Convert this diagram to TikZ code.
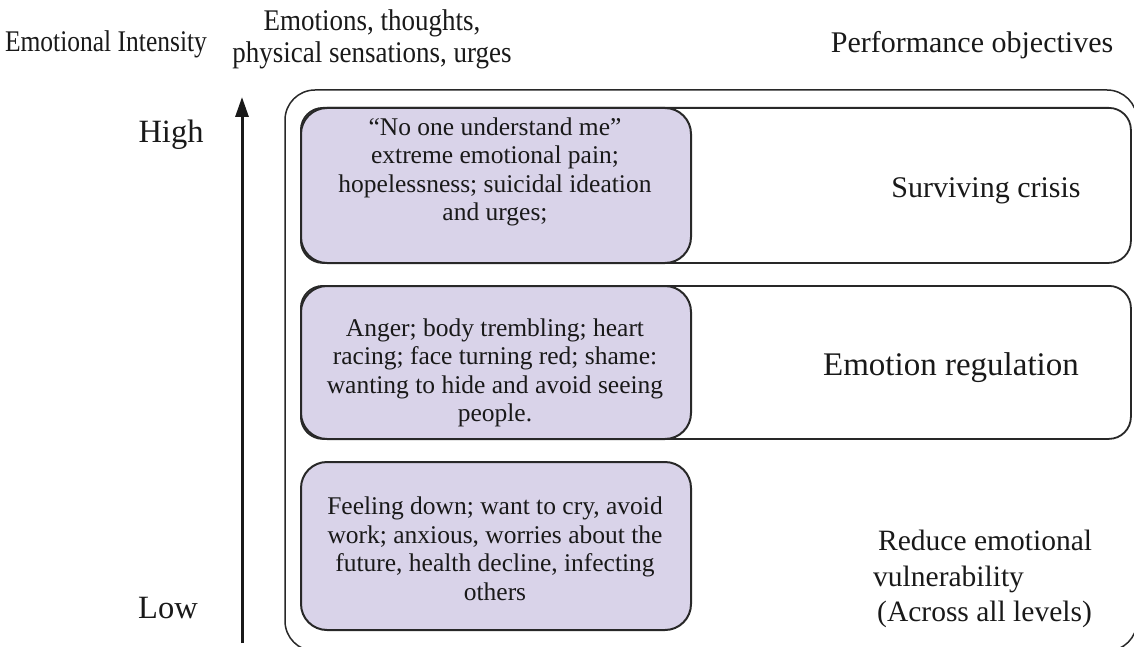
\documentclass[tikz,border=0pt]{standalone}
\usepackage{fontspec}
\setmainfont{Liberation Serif}
\newfontfamily\narrowhead{Liberation Serif}[FakeStretch=0.85]
\newfontfamily\midhead{Liberation Serif}[FakeStretch=0.9]
\usetikzlibrary{arrows.meta}
\definecolor{lav}{RGB}{217,211,233}
\definecolor{edge}{RGB}{40,40,40}
\definecolor{ink}{RGB}{25,25,25}
\begin{document}
\begin{tikzpicture}[x=1pt,y=-1pt,
  frame/.style={draw=edge, line width=1.5pt, rounded corners=30pt},
  rowbox/.style={draw=edge, line width=1.8pt, fill=white, rounded corners=22pt, anchor=north west, inner sep=0pt},
  feelbox/.style={draw=edge, line width=2pt, fill=lav, rounded corners=26pt, anchor=north west, inner sep=0pt},
  body/.style={font=\fontsize{25.5}{28.5}\selectfont, align=center, inner sep=0pt, text=ink},
  head/.style={align=center, inner sep=0pt, text=ink},
  goal/.style={inner sep=0pt, text=ink, anchor=base},
  level/.style={font=\fontsize{32.5}{36}\selectfont, inner sep=0pt, text=ink, anchor=base}]
\useasboundingbox (0,0) rectangle (1134,647);
\clip (0,0) rectangle (1134,647);

% column headings
\node[head, font=\narrowhead\fontsize{30}{32}\selectfont, anchor=base] (hInt) at (106,52) {Emotional Intensity};
\node[head, font=\midhead\fontsize{30}{32}\selectfont] (hEmo) at (372,39) {Emotions, thoughts,\\physical sensations, urges};
\node[head, font=\fontsize{30}{34}\selectfont, anchor=base] (hObj) at (972,53) {Performance objectives};

% intensity axis
\coordinate (lo) at (242,643);
\coordinate (hi) at (242,97);
\draw[ink, line width=3pt, -{Triangle[width=13pt,length=20pt]}] (lo) -- (hi);
\node[level] (high) at (171,143) {High};
\node[level] (low) at (168,618) {Low};

% outer frame
\draw[frame] (285,90) rectangle (1137,651);

% objective rows
\node[rowbox, minimum width=830pt, minimum height=155pt] (r1) at (300,107) {};
\node[rowbox, minimum width=830pt, minimum height=153pt] (r2) at (300,285) {};

% emotion boxes
\node[feelbox, minimum width=390pt, minimum height=155pt] (f1) at (300,107) {};
\node[feelbox, minimum width=390pt, minimum height=153pt] (f2) at (300,285) {};
\node[feelbox, minimum width=390pt, minimum height=168pt] (f3) at (300,461) {};

\node[body] (t1) at (495,172) {``No one understand me''\\extreme emotional pain;\\hopelessness; suicidal ideation\\and urges;};
\node[body] (t2) at (495,373) {Anger; body trembling; heart\\racing; face turning red; shame:\\wanting to hide and avoid seeing\\people.};
\node[body] (t3) at (495,549) {Feeling down; want to cry, avoid\\work; anxious, worries about the\\future, health decline, infecting\\others};

% objectives
\node[goal, font=\fontsize{30}{34}\selectfont] (g1) at (986,197) {Surviving crisis};
\node[goal, font=\fontsize{33}{36}\selectfont] (g2) at (951,375) {Emotion regulation};
\node[inner sep=0pt, text=ink, font=\fontsize{29.5}{35.5}\selectfont, align=left, anchor=west] (g3) at (873,579) {\hspace{5pt}Reduce emotional\\vulnerability\\\hspace{4pt}(Across all levels)};
\end{tikzpicture}
\end{document}
